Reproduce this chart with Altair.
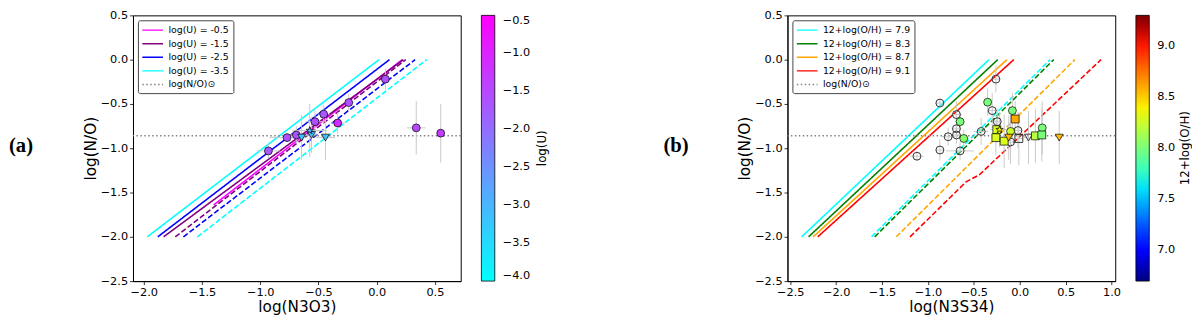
import altair as alt
import pandas as pd
import numpy as np

# ---------------- shared ----------------
PANEL_LABELS = ["(a)", "(b)"]
CBAR_TITLES = ["log(U)", "12+log(O/H)"]
SUN_LABEL = "log(N/O)\u2299"
NO_SUN = -0.86
Y_TICKS = [-2.5, -2.0, -1.5, -1.0, -0.5, 0.0, 0.5]

# ---------------- panel (a) data ----------------
A_LINE_LABELS = ["log(U) = -0.5", "log(U) = -1.5", "log(U) = -2.5", "log(U) = -3.5"]
A_LINE_COLORS = ["#ff00ff", "#800080", "#0000ff", "#00ffff"]
A_SOLID_X = [[-1.40, 0.22], [-1.83, 0.23], [-1.88, 0.11], [-1.97, 0.02]]
A_SOLID_Y = [[-1.64, 0.0], [-2.0, 0.0], [-2.0, 0.0], [-2.0, 0.0]]
A_DASH_LABELS = ["log(U) = -1.5", "log(U) = -2.5", "log(U) = -3.5"]
A_DASH_X = [[-1.73, 0.25], [-1.66, 0.33], [-1.54, 0.43]]
A_DASH_Y = [[-2.0, 0.0], [-2.0, 0.0], [-2.0, 0.0]]

A_PT_X = [-0.93, -0.77, -0.69, -0.53, -0.455, -0.24, -0.335, 0.075, 0.34, 0.55,
          -0.645, -0.56, -0.44, -0.575]
A_PT_Y = [-1.03, -0.88, -0.85, -0.70, -0.615, -0.485, -0.715, -0.22, -0.77, -0.83,
          -0.88, -0.85, -0.88, -0.80]
A_PT_XERR = [0.10, 0.15, 0.10, 0.08, 0.05, 0.04, 0.06, 0.03, 0.08, 0.03,
             0.05, 0.05, 0.08, 0.15]
A_PT_YERR = [0.08, 0.05, 0.10, 0.15, 0.10, 0.10, 0.12, 0.12, 0.30, 0.33,
             0.25, 0.20, 0.25, 0.30]
A_PT_LOGU = [-1.7, -1.6, -1.6, -1.6, -1.7, -1.6, -1.1, -1.6, -1.5, -1.3,
             -3.2, -3.2, -3.1, -3.0]
A_PT_KIND = ["circle"] * 10 + ["triangle"] * 3 + ["star"]
A_X_TICKS = [-2.0, -1.5, -1.0, -0.5, 0.0, 0.5]
A_X_DOMAIN = [-2.093, 0.722]
U_TICKS = [-4.0, -3.5, -3.0, -2.5, -2.0, -1.5, -1.0, -0.5]

# ---------------- panel (b) data ----------------
B_LINE_LABELS = ["12+log(O/H) = 7.9", "12+log(O/H) = 8.3", "12+log(O/H) = 8.7", "12+log(O/H) = 9.1"]
B_LINE_COLORS = ["#00ffff", "#008000", "#ffa500", "#ff0000"]
B_SOLID_X = [[-2.375, -0.335], [-2.30, -0.24], [-2.25, -0.14], [-2.20, -0.065]]
B_SOLID_Y = [[-2.0, 0.0], [-2.0, 0.0], [-2.0, 0.0], [-2.0, 0.0]]
B_DASH_X = [[-1.615, 0.33], [-1.58, 0.37], [-1.345, 0.60], [-1.195, -0.585, -0.44, 0.885]]
B_DASH_Y = [[-2.0, 0.0], [-2.0, 0.0], [-2.0, 0.0], [-2.0, -1.38, -1.30, 0.0]]

B_OPEN_X = [-0.87, -0.26, -0.69, -0.30, -0.69, -0.69, -0.78, -0.42, -0.65, -0.87,
            -1.12, -0.245, -0.10, -0.02, -0.01, 0.095]
B_OPEN_Y = [-0.49, -0.22, -0.62, -0.575, -0.78, -0.85, -0.87, -0.81, -1.03, -1.02,
            -1.09, -0.70, -0.93, -0.80, -0.89, -0.88]
B_OPEN_XERR = [0.05, 0.04, 0.06, 0.05, 0.05, 0.05, 0.08, 0.08, 0.15, 0.05,
               0.07, 0.05, 0.05, 0.05, 0.05, 0.05]
B_OPEN_YERR = [0.05, 0.15, 0.15, 0.20, 0.10, 0.10, 0.10, 0.15, 0.10, 0.12,
               0.05, 0.15, 0.25, 0.20, 0.30, 0.30]
B_OPEN_KIND = ["circle"] * 14 + ["square", "triangle"]

B_FILL_X = [-0.35, -0.65, -0.61, -0.08, 0.245, -0.10,
            -0.05, -0.26, -0.17, 0.17, 0.24, -0.25,
            -0.12, 0.43, -0.22]
B_FILL_Y = [-0.48, -0.70, -0.89, -0.575, -0.77, -0.81,
            -0.67, -0.88, -0.92, -0.86, -0.85, -0.79,
            -0.88, -0.88, -0.79]
B_FILL_XERR = [0.04, 0.05, 0.05, 0.05, 0.04, 0.05,
               0.04, 0.05, 0.05, 0.05, 0.03, 0.05,
               0.05, 0.03, 0.10]
B_FILL_YERR = [0.15, 0.10, 0.10, 0.20, 0.30, 0.20,
               0.20, 0.20, 0.30, 0.30, 0.30, 0.15,
               0.25, 0.30, 0.20]
B_FILL_OH = [8.0, 8.0, 8.05, 8.0, 8.0, 8.25,
             8.6, 8.3, 8.3, 8.2, 8.0, 8.3,
             8.55, 8.55, 8.4]
B_FILL_KIND = ["circle"] * 6 + ["square"] * 6 + ["triangle"] * 2 + ["star"]
B_X_TICKS = [-2.5, -2.0, -1.5, -1.0, -0.5, 0.0, 0.5, 1.0]
B_X_DOMAIN = [-2.53, 1.04]
OH_TICKS = [7.0, 7.5, 8.0, 8.5, 9.0]
OH_DOMAIN = [6.7, 9.3]

# ---------------- styling helpers ----------------
FONT = "DejaVu Sans"
STAR = ("M0,-1L0.225,-0.309L0.951,-0.309L0.363,0.118L0.588,0.809L0,0.382"
        "L-0.588,0.809L-0.363,0.118L-0.951,-0.309L-0.225,-0.309Z")
SHAPE_DOMAIN = ["circle", "square", "triangle", "star"]
SHAPE_RANGE = ["circle", "square", "triangle-down", STAR]
SIZE_RANGE = [64, 64, 95, 130]
SOLID = [1, 0]
DASHED = [5.5, 2.4]
DOTTED = [1.5, 2.5]
W, H = 333, 270


def jet_stops(lo, hi):
    t = np.array([0, 0.11, 0.125, 0.34, 0.35, 0.375, 0.5, 0.64, 0.65, 0.66, 0.89, 0.91, 1.0])
    r = np.interp(t, [0, 0.35, 0.66, 0.89, 1], [0, 0, 1, 1, 0.5])
    g = np.interp(t, [0, 0.125, 0.375, 0.64, 0.91, 1], [0, 0, 1, 1, 0, 0])
    b = np.interp(t, [0, 0.11, 0.34, 0.65, 1], [0.5, 1, 1, 0, 0])
    cols = ["#%02x%02x%02x" % (int(round(rr * 255)), int(round(gg * 255)), int(round(bb * 255)))
            for rr, gg, bb in zip(r, g, b)]
    dom = list(lo + t * (hi - lo))
    return dom, cols


def lines_frame(labels, xs_all, ys_all, tag):
    rows = []
    for k, (lab, xs, ys) in enumerate(zip(labels, xs_all, ys_all)):
        for i, (x, y) in enumerate(zip(xs, ys)):
            rows.append(dict(label=lab, line=f"{tag}{k}", x=x, y=y, ord=i))
    return pd.DataFrame(rows)


def points_frame(xs, ys, xe, ye, kind, cval=None):
    df = pd.DataFrame(dict(x=xs, y=ys, xe=xe, ye=ye, kind=kind))
    df["xlo"] = df.x - df.xe
    df["xhi"] = df.x + df.xe
    df["ylo"] = df.y - df.ye
    df["yhi"] = df.y + df.ye
    if cval is not None:
        df["c"] = cval
    return df


def xenc(field, dom, ticks, title):
    return alt.X(field, type="quantitative", title=title,
                 scale=alt.Scale(domain=dom, nice=False, zero=False),
                 axis=alt.Axis(values=ticks, format=".1f", labelFlush=False))


def yenc(field):
    return alt.Y(field, type="quantitative", title="log(N/O)",
                 scale=alt.Scale(domain=[-2.5, 0.5], nice=False, zero=False),
                 axis=alt.Axis(values=Y_TICKS, format=".1f", labelFlush=False))


def line_legend():
    return alt.Legend(title=None, orient="top-left", offset=5, padding=4,
                      fillColor="white", strokeColor="#444444", cornerRadius=2,
                      symbolType="M-1.1,0H3.1", symbolSize=100, symbolStrokeWidth=1.5,
                      labelFont=FONT, labelFontSize=9.5, labelColor="black",
                      labelOffset=15, rowPadding=2.8, labelLimit=300)


def grad_legend(ticks):
    return alt.Legend(title=None, orient="right", offset=21, direction="vertical",
                      gradientLength=270, gradientThickness=13.6,
                      gradientStrokeColor="black", gradientStrokeWidth=0.8,
                      values=ticks, format=".1f", labelFont=FONT, labelFontSize=11.5,
                      labelColor="black", labelOffset=8, labelBaseline="middle",
                      labelOverlap=False, padding=0)


def panel(df_solid, df_dash, line_labels, line_colors, x_dom, x_ticks, x_title,
          df_err, df_open, df_fill, cscale, ctitle, ctitle_x, cticks, plabel):
    cdom = line_labels + [SUN_LABEL]
    crange = line_colors + ["#808080"]
    lcolor = alt.Color("label:N", scale=alt.Scale(domain=cdom, range=crange), legend=line_legend())
    ldash = alt.StrokeDash("label:N", scale=alt.Scale(domain=cdom,
                           range=[SOLID] * len(line_labels) + [DOTTED]), legend=line_legend())
    xx = xenc("x", x_dom, x_ticks, x_title)
    yy = yenc("y")
    solid = alt.Chart(df_solid).mark_line(strokeWidth=1.6).encode(
        x=xx, y=yy, color=lcolor, strokeDash=ldash, detail="line:N", order="ord:Q")
    dashed = alt.Chart(df_dash).mark_line(strokeWidth=1.6).encode(
        x=xx, y=yy, color=lcolor, strokeDash=alt.value(DASHED), detail="line:N", order="ord:Q")
    sun = alt.Chart(pd.DataFrame({"label": [SUN_LABEL], "y": [NO_SUN]})).mark_rule(
        strokeWidth=1.5).encode(y=yy, color=lcolor, strokeDash=ldash)
    ebx = alt.Chart(df_err).mark_rule(color="#c8c8c8", strokeWidth=1).encode(
        x=xenc("xlo", x_dom, x_ticks, x_title), x2="xhi", y=yy)
    eby = alt.Chart(df_err).mark_rule(color="#c8c8c8", strokeWidth=1).encode(
        x=xx, y=yenc("ylo"), y2="yhi")
    shp = alt.Shape("kind:N", scale=alt.Scale(domain=SHAPE_DOMAIN, range=SHAPE_RANGE), legend=None)
    siz = alt.Size("kind:N", scale=alt.Scale(domain=SHAPE_DOMAIN, range=SIZE_RANGE), legend=None)
    base_layers = [solid, dashed, sun, ebx, eby]
    if df_open is not None:
        opn = alt.Chart(df_open).mark_point(filled=False, stroke="#333333", strokeWidth=1,
                                            opacity=1).encode(x=xx, y=yy, shape=shp, size=siz)
        base_layers.append(opn)
    base = alt.layer(*base_layers)
    fill = alt.Chart(df_fill).mark_point(filled=True, stroke="black", strokeWidth=0.7,
                                         opacity=1).encode(
        x=xx, y=yy, shape=shp, size=siz,
        color=alt.Color("c:Q", scale=cscale, legend=grad_legend(cticks)))
    lab = alt.Chart(pd.DataFrame({"t": [plabel]})).mark_text(
        font="Liberation Serif", fontSize=21, fontWeight="bold", align="left",
        baseline="middle", color="black").encode(
        x=alt.value(-126), y=alt.value(132.5), text="t:N")
    ctl = alt.Chart(pd.DataFrame({"t": [ctitle]})).mark_text(
        font=FONT, fontSize=12, angle=270, align="center", baseline="middle",
        color="black").encode(x=alt.value(ctitle_x), y=alt.value(H / 2), text="t:N")
    return alt.layer(base, fill, lab, ctl).resolve_scale(
        color="independent", strokeDash="independent").properties(width=W, height=H)


# ---- panel a ----
dfs_a = lines_frame(A_LINE_LABELS, A_SOLID_X, A_SOLID_Y, "s")
dfd_a = lines_frame(A_DASH_LABELS, A_DASH_X, A_DASH_Y, "d")
dfp_a = points_frame(A_PT_X, A_PT_Y, A_PT_XERR, A_PT_YERR, A_PT_KIND, A_PT_LOGU)
cool = alt.Scale(domain=[-4.0, -0.5], range=["#00ffff", "#ff00ff"], interpolate="rgb")
pa = panel(dfs_a, dfd_a, A_LINE_LABELS, A_LINE_COLORS, A_X_DOMAIN, A_X_TICKS, "log(N3O3)",
           dfp_a, None, dfp_a, cool, CBAR_TITLES[0], W + 83, U_TICKS, PANEL_LABELS[0])

# ---- panel b ----
dfs_b = lines_frame(B_LINE_LABELS, B_SOLID_X, B_SOLID_Y, "s")
dfd_b = lines_frame(B_LINE_LABELS, B_DASH_X, B_DASH_Y, "d")
dfo_b = points_frame(B_OPEN_X, B_OPEN_Y, B_OPEN_XERR, B_OPEN_YERR, B_OPEN_KIND)
dff_b = points_frame(B_FILL_X, B_FILL_Y, B_FILL_XERR, B_FILL_YERR, B_FILL_KIND, B_FILL_OH)
dfe_b = pd.concat([dfo_b, dff_b.drop(columns=["c"])], ignore_index=True)
jd, jc = jet_stops(OH_DOMAIN[0], OH_DOMAIN[1])
jet = alt.Scale(domain=jd, range=jc, interpolate="rgb")
pb = panel(dfs_b, dfd_b, B_LINE_LABELS, B_LINE_COLORS, B_X_DOMAIN, B_X_TICKS, "log(N3S34)",
           dfe_b, dfo_b, dff_b, jet, CBAR_TITLES[1], W + 71, OH_TICKS, PANEL_LABELS[1])

chart = alt.hconcat(pa, pb, spacing=115).resolve_scale(
    color="independent", shape="independent", size="independent", strokeDash="independent"
).properties(
    padding={"left": 0, "top": -2, "right": 0, "bottom": 0}
).configure_view(
    stroke="black", strokeWidth=1
).configure_axis(
    grid=False, domainColor="black", domainWidth=1, tickColor="black", tickSize=3.5,
    tickWidth=0.8, labelFont=FONT, labelFontSize=11.5, labelColor="black", labelPadding=2,
    titleFont=FONT, titleFontSize=15.5, titleFontWeight="normal", titleColor="black",
    titlePadding=2
)

chart.save("out.html", embed_options={"renderer": "svg", "actions": False})
